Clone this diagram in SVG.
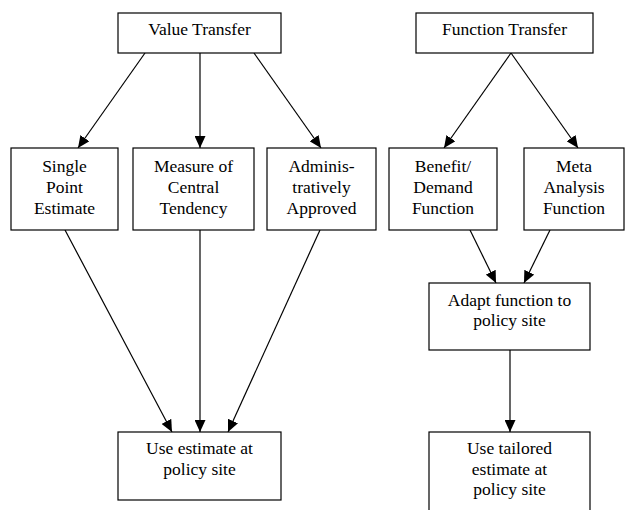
<svg xmlns="http://www.w3.org/2000/svg" width="625" height="510" viewBox="0 0 625 510">
<style>
rect.box{fill:#fff;stroke:#000;stroke-width:1.2}
.t{font-family:"Liberation Serif",serif;font-size:17.5px;fill:#000;text-anchor:middle}
.edges line{stroke:#000;stroke-width:1.2;marker-end:url(#ah)}
</style>
<defs>
<marker id="ah" viewBox="0 0 12 11" refX="12" refY="5.5" markerUnits="userSpaceOnUse" markerWidth="12" markerHeight="11" orient="auto">
<path d="M0,0 L12,5.5 L0,11 Z" fill="#000"/>
</marker>
</defs>
<rect width="625" height="510" fill="#fff"/>
<g class="edges">
<line x1="145" y1="53" x2="78" y2="148"/>
<line x1="200" y1="53" x2="200" y2="148"/>
<line x1="254" y1="53" x2="321" y2="148"/>
<line x1="511" y1="53" x2="444" y2="148"/>
<line x1="511" y1="53" x2="578" y2="148"/>
<line x1="65" y1="230" x2="172" y2="432"/>
<line x1="200" y1="230" x2="200" y2="432"/>
<line x1="320" y1="230" x2="228" y2="432"/>
<line x1="470" y1="230" x2="496" y2="283"/>
<line x1="550" y1="230" x2="524" y2="283"/>
<line x1="510" y1="350" x2="510" y2="432"/>
</g>
<g id="value-transfer"><rect class="box" x="118" y="13" width="163" height="40"/><text class="t" x="199.5" y="35">Value Transfer</text></g>
<g id="function-transfer"><rect class="box" x="416" y="13" width="177" height="40"/><text class="t" x="504.5" y="35">Function Transfer</text></g>
<g id="single-point"><rect class="box" x="11" y="148" width="107" height="82"/><text class="t" x="64.5" y="172">Single</text><text class="t" x="64.5" y="193">Point</text><text class="t" x="64.5" y="213.5">Estimate</text></g>
<g id="central-tendency"><rect class="box" x="133" y="148" width="121" height="82"/><text class="t" x="193.5" y="172">Measure of</text><text class="t" x="193.5" y="193">Central</text><text class="t" x="193.5" y="213.5">Tendency</text></g>
<g id="admin-approved"><rect class="box" x="267" y="148" width="109" height="82"/><text class="t" x="321.5" y="172">Adminis-</text><text class="t" x="321.5" y="193">tratively</text><text class="t" x="321.5" y="213.5">Approved</text></g>
<g id="benefit-demand"><rect class="box" x="389" y="148" width="108" height="82"/><text class="t" x="443" y="172">Benefit/</text><text class="t" x="443" y="193">Demand</text><text class="t" x="443" y="213.5">Function</text></g>
<g id="meta-analysis"><rect class="box" x="524" y="148" width="100" height="82"/><text class="t" x="574" y="172">Meta</text><text class="t" x="574" y="193">Analysis</text><text class="t" x="574" y="213.5">Function</text></g>
<g id="adapt-function"><rect class="box" x="429" y="283" width="161" height="67"/><text class="t" x="509.5" y="305.5">Adapt function to</text><text class="t" x="509.5" y="326">policy site</text></g>
<g id="use-estimate"><rect class="box" x="118" y="432" width="163" height="68"/><text class="t" x="199.5" y="454">Use estimate at</text><text class="t" x="199.5" y="474.5">policy site</text></g>
<g id="use-tailored"><rect class="box" x="429" y="432" width="161" height="90"/><text class="t" x="509.5" y="454">Use tailored</text><text class="t" x="509.5" y="474.5">estimate at</text><text class="t" x="509.5" y="495">policy site</text></g>
</svg>
